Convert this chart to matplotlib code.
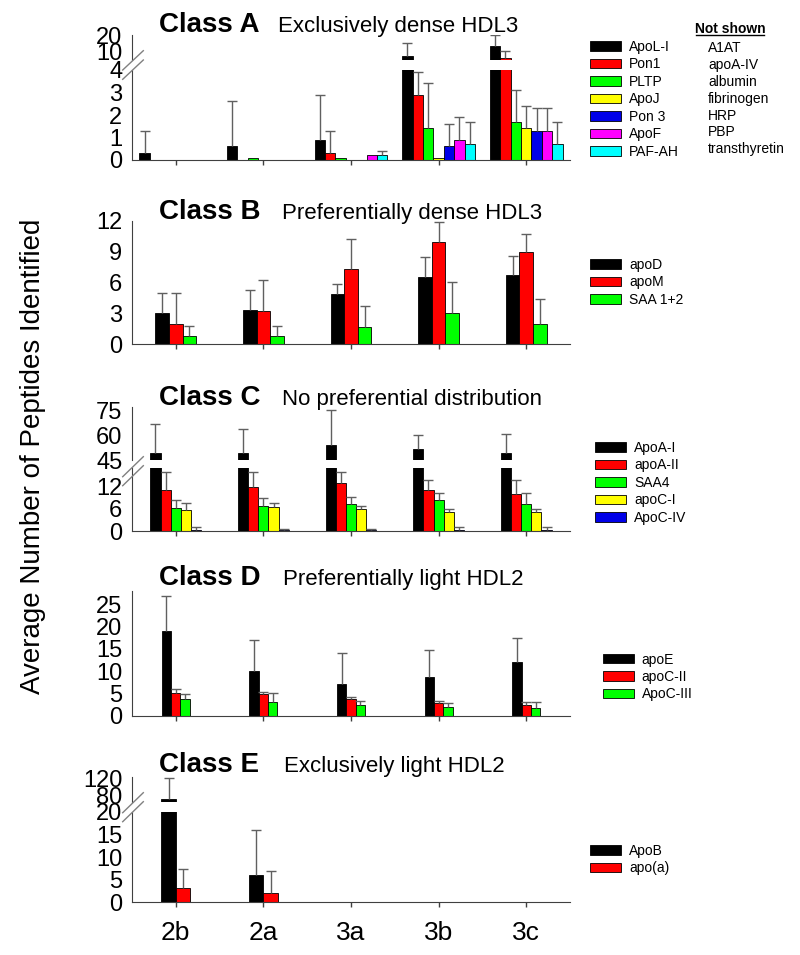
import numpy as np
import matplotlib
matplotlib.use("Agg")
import matplotlib.pyplot as plt
from matplotlib.lines import Line2D
from matplotlib.patches import Patch

plt.rcParams['font.family'] = ['Liberation Sans', 'DejaVu Sans']

# ---------------- data ----------------
fractions = ['2b', '2a', '3a', '3b', '3c']

classA_names = ['ApoL-I', 'Pon1', 'PLTP', 'ApoJ', 'Pon 3', 'ApoF', 'PAF-AH']
classA_colors = ['#000000', '#FF0000', '#00FF00', '#FFFF00', '#0000E8', '#FF00FF', '#00FFFF']
classA_mean = [
    [0.3, 0.6, 0.9, 7.4, 13.5],
    [0.0, 0.0, 0.3, 2.9, 6.4],
    [0.0, 0.1, 0.1, 1.4, 1.7],
    [0.0, 0.0, 0.0, 0.1, 1.4],
    [0.0, 0.0, 0.0, 0.6, 1.3],
    [0.0, 0.0, 0.2, 0.9, 1.3],
    [0.0, 0.0, 0.2, 0.7, 0.7],
]
classA_sd = [
    [1.0, 2.0, 2.0, 7.8, 6.5],
    [0.0, 0.0, 1.0, 1.03, 4.0],
    [0.0, 0.0, 0.0, 2.0, 1.4],
    [0.0, 0.0, 0.0, 0.0, 1.0],
    [0.0, 0.0, 0.0, 1.0, 1.0],
    [0.0, 0.0, 0.0, 1.0, 1.0],
    [0.0, 0.0, 0.2, 1.0, 1.0],
]
not_shown = ['A1AT', 'apoA-IV', 'albumin', 'fibrinogen', 'HRP', 'PBP', 'transthyretin']

classB_names = ['apoD', 'apoM', 'SAA 1+2']
classB_colors = ['#000000', '#FF0000', '#00FF00']
classB_mean = [
    [3.0, 3.3, 4.9, 6.5, 6.7],
    [2.0, 3.2, 7.3, 9.9, 9.0],
    [0.8, 0.8, 1.7, 3.0, 2.0],
]
classB_sd = [
    [2.0, 2.0, 1.0, 2.0, 1.9],
    [3.0, 3.05, 2.95, 2.0, 1.7],
    [1.0, 1.0, 2.0, 3.0, 2.4],
]

classC_names = ['ApoA-I', 'apoA-II', 'SAA4', 'apoC-I', 'ApoC-IV']
classC_colors = ['#000000', '#FF0000', '#00FF00', '#FFFF00', '#0000E8']
classC_mean = [
    [49.5, 49.5, 54.2, 51.5, 49.5],
    [11.0, 11.9, 12.9, 11.0, 10.0],
    [6.1, 6.9, 7.3, 8.3, 7.3],
    [5.6, 6.4, 5.9, 5.1, 5.1],
    [0.4, 0.3, 0.3, 0.4, 0.4],
]
classC_sd = [
    [17.3, 14.7, 21.2, 9.0, 11.6],
    [4.9, 4.0, 3.0, 2.9, 3.9],
    [2.2, 2.0, 2.0, 1.9, 2.9],
    [2.1, 1.1, 1.0, 0.9, 0.9],
    [0.6, 0.2, 0.2, 0.6, 0.8],
]

classD_names = ['apoE', 'apoC-II', 'ApoC-III']
classD_colors = ['#000000', '#FF0000', '#00FF00']
classD_mean = [
    [19.0, 10.0, 7.0, 8.7, 12.0],
    [5.0, 4.8, 3.7, 2.8, 2.4],
    [3.8, 3.1, 2.4, 1.9, 1.7],
]
classD_sd = [
    [7.9, 7.0, 7.0, 6.0, 5.4],
    [1.0, 0.5, 0.5, 0.6, 0.6],
    [1.0, 1.9, 1.0, 1.0, 1.4],
]

classE_names = ['ApoB', 'apo(a)']
classE_colors = ['#000000', '#FF0000']
classE_mean = [
    [70.0, 6.0, 0.0, 0.0, 0.0],
    [3.2, 2.0, 0.0, 0.0, 0.0],
]
classE_sd = [
    [50.0, 10.1, 0.0, 0.0, 0.0],
    [4.1, 4.9, 0.0, 0.0, 0.0],
]

# ---------------- layout helpers ----------------
W, H = 800, 955
fig = plt.figure(figsize=(W / 100, H / 100), dpi=100)

AX_L, AX_R = 132, 570
SPINE = '#404040'
ERRC = '#606060'
TICKFS = 17


def fx(x):
    return x / W


def fy(y):
    return 1 - y / H


def make_ax(top, bottom, part='full'):
    ax = fig.add_axes([fx(AX_L), fy(bottom), fx(AX_R - AX_L), (bottom - top) / H])
    ax.set_xlim(-0.5, 4.5)
    ax.spines['right'].set_visible(False)
    ax.spines['top'].set_visible(False)
    ax.spines['left'].set_color(SPINE)
    ax.spines['bottom'].set_color(SPINE)
    ax.patch.set_alpha(0)
    ax.tick_params(axis='y', length=0, pad=7, labelsize=TICKFS)
    if part == 'upper':
        ax.spines['bottom'].set_visible(False)
        ax.set_xticks([])
    else:
        ax.set_xticks(range(len(fractions)))
        ax.set_xticklabels([])
        ax.tick_params(axis='x', direction='out', length=3.5, color=SPINE, width=1)
    return ax


def draw_bars(ax, means, sds, colors, width):
    n = len(means)
    x0 = np.arange(len(fractions))
    for j in range(n):
        x = x0 + (j - (n - 1) / 2) * width
        m = np.asarray(means[j], float)
        s = np.asarray(sds[j], float)
        ax.bar(x, m, width=width, color=colors[j], edgecolor='black', linewidth=0.6, zorder=2)
        mask = s > 0
        ax.vlines(x[mask], m[mask], m[mask] + s[mask], color=ERRC, linewidth=1, zorder=3)
        ax.hlines(m[mask] + s[mask], x[mask] - 0.057, x[mask] + 0.057, color=ERRC, linewidth=1, zorder=3)


def break_marks(y1a, y1b, y2a, y2b):
    for (ya, yb) in ((y1a, y1b), (y2a, y2b)):
        fig.add_artist(Line2D([fx(122.7), fx(143.3)], [fy(ya), fy(yb)], color='#808080', linewidth=1))


def title(baseline, sub_x, bold, sub):
    fig.text(fx(159), fy(baseline), bold, fontsize=20, fontweight='bold', va='baseline', ha='left')
    fig.text(fx(sub_x), fy(baseline), sub, fontsize=16, va='baseline', ha='left')


def legend(ax, names, colors, x_px, first_center):
    handles = [Patch(facecolor=c, edgecolor='black', linewidth=0.6) for c in colors]
    ax.legend(handles, names, loc='upper left',
              bbox_to_anchor=(fx(x_px), fy(first_center - 8)), bbox_transform=fig.transFigure,
              frameon=False, fontsize=10, handlelength=2.25, handleheight=0.65,
              handletextpad=0.55, labelspacing=0.25, borderpad=0, borderaxespad=0)


# ---------------- Class A ----------------
axA_up = make_ax(35, 60, 'upper')
axA_lo = make_ax(70, 160)
for ax in (axA_up, axA_lo):
    draw_bars(ax, classA_mean, classA_sd, classA_colors, 0.119)
axA_up.set_ylim(5, 20)
axA_up.set_yticks([10, 20])
axA_lo.set_ylim(0, 4)
axA_lo.set_yticks([0, 1, 2, 3, 4])
break_marks(70, 50.7, 79.3, 60)
title(31.7, 278.3, 'Class A', 'Exclusively dense HDL3')
legend(axA_lo, classA_names, classA_colors, 590, 48)
fig.text(fx(730), fy(33.3), 'Not shown', fontsize=10, fontweight='bold', ha='center', va='baseline')
fig.add_artist(Line2D([fx(695.7), fx(764)], [fy(35.5), fy(35.5)], color='black', linewidth=1))
for k, nm in enumerate(not_shown):
    fig.text(fx(708), fy(48.3 + k * 16.8), nm, fontsize=10, ha='left', va='center')

# ---------------- Class B ----------------
axB = make_ax(220.7, 344.3)
draw_bars(axB, classB_mean, classB_sd, classB_colors, 0.155)
axB.set_ylim(0, 12)
axB.set_yticks([0, 3, 6, 9, 12])
title(219.3, 281.7, 'Class B', 'Preferentially dense HDL3')
legend(axB, classB_names, classB_colors, 590, 266)

# ---------------- Class C ----------------
axC_up = make_ax(406.7, 460, 'upper')
axC_lo = make_ax(468.2, 531)
for ax in (axC_up, axC_lo):
    draw_bars(ax, classC_mean, classC_sd, classC_colors, 0.116)
axC_up.set_ylim(45, 77.6)
axC_up.set_yticks([45, 60, 75])
axC_lo.set_ylim(0, 17)
axC_lo.set_yticks([0, 6, 12])
break_marks(476.7, 456.7, 485.7, 465.7)
title(405, 281.7, 'Class C', 'No preferential distribution')
legend(axC_lo, classC_names, classC_colors, 595, 449)

# ---------------- Class D ----------------
axD = make_ax(590.7, 715.7)
draw_bars(axD, classD_mean, classD_sd, classD_colors, 0.107)
axD.set_ylim(0, 28)
axD.set_yticks([0, 5, 10, 15, 20, 25])
title(585, 282.7, 'Class D', 'Preferentially light HDL2')
legend(axD, classD_names, classD_colors, 602.7, 660.5)

# ---------------- Class E ----------------
axE_up = make_ax(777.3, 801.7, 'upper')
axE_lo = make_ax(811.9, 902.3)
for ax in (axE_up, axE_lo):
    draw_bars(ax, classE_mean, classE_sd, classE_colors, 0.166)
axE_up.set_ylim(64, 122.4)
axE_up.set_yticks([80, 120])
axE_lo.set_ylim(0, 20)
axE_lo.set_yticks([0, 5, 10, 15, 20])
axE_lo.set_xticklabels(fractions, fontsize=19)
axE_lo.tick_params(axis='x', pad=10)
break_marks(812.7, 792.7, 821.7, 801.7)
title(772.3, 284, 'Class E', 'Exclusively light HDL2')
legend(axE_lo, classE_names, classE_colors, 590, 852)

# ---------------- y label ----------------
fig.text(fx(33), fy(456.7), 'Average Number of Peptides Identified', rotation=90,
         ha='center', va='center', fontsize=20)

fig.savefig('out.png', dpi=100)
